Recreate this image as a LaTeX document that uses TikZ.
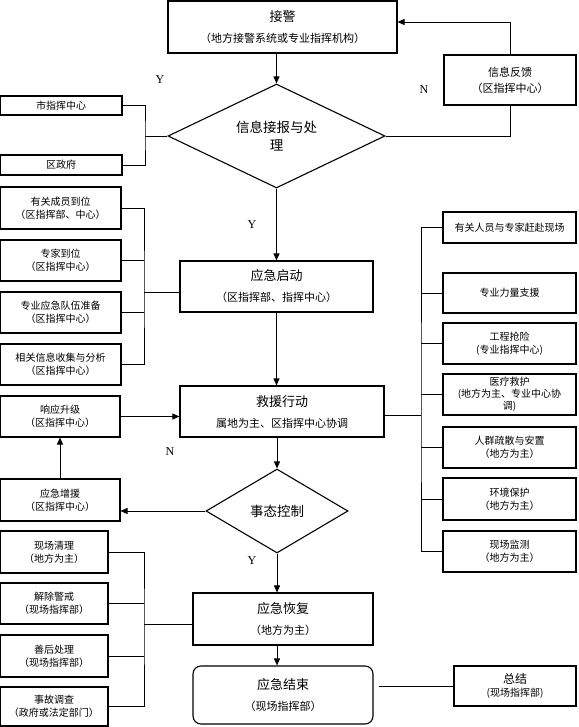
\documentclass[tikz,border=0pt]{standalone}
\usepackage{fontspec}
\setmainfont{Noto Sans CJK SC}
\newfontfamily\yesno{Liberation Serif}
\usetikzlibrary{shapes.geometric, arrows.meta}
\newcommand{\boxtitle}[1]{{\fontsize{13}{13}\selectfont #1}}

\begin{document}
\begin{tikzpicture}[x=1pt, y=-1pt,
    box/.style={draw, line width=1.1pt, align=center, inner sep=0pt},
    mainbox/.style={box, font=\fontsize{11}{21}\selectfont},
    sidebox/.style={box, font=\fontsize{10}{13}\selectfont},
    decision/.style={diamond, aspect=2, draw, line width=1.1pt, align=center, inner sep=0pt, font=\fontsize{13.5}{18}\selectfont},
    yn/.style={font=\yesno\fontsize{12}{12}\selectfont},
    link/.style={line width=0.9pt},
    arr/.style={link, -{Triangle[length=7pt,width=6pt]}}]
    \useasboundingbox (0,0) rectangle (578,727);

    \node[mainbox, minimum width=229pt, minimum height=52pt] (jiejing) at (282.5,27) {\boxtitle{接警}\\（地方接警系统或专业指挥机构）};
    \node[decision, minimum width=217pt, minimum height=104pt] (info) at (276.5,136) {信息接报与处\\理};
    \node[sidebox, font=\fontsize{11}{16}\selectfont, minimum width=132pt, minimum height=50pt] (fankui) at (510,80) {信息反馈\\（区指挥中心）};
    \node[sidebox, minimum width=122pt, minimum height=19pt] (shizhihui) at (61,105.5) {市指挥中心};
    \node[sidebox, minimum width=122pt, minimum height=20pt] (quzhengfu) at (61,165) {区政府};

    \node[sidebox, minimum width=121pt, minimum height=42pt] (daowei) at (60.5,208) {有关成员到位\\（区指挥部、中心）};
    \node[sidebox, minimum width=121pt, minimum height=41pt] (zhuanjia) at (60.5,260.5) {专家到位\\（区指挥中心）};
    \node[sidebox, minimum width=121pt, minimum height=41pt] (duiwu) at (60.5,312.5) {专业应急队伍准备\\（区指挥中心）};
    \node[sidebox, minimum width=121pt, minimum height=41pt] (shouji) at (60.5,364.5) {相关信息收集与分析\\（区指挥中心）};

    \node[mainbox, minimum width=193pt, minimum height=51pt] (qidong) at (276.5,286.5) {\boxtitle{应急启动}\\（区指挥部、指挥中心）};
    \node[mainbox, minimum width=204pt, minimum height=51pt] (jiuyuan) at (282,411.5) {\boxtitle{救援行动}\\属地为主、区指挥中心协调};
    \node[sidebox, minimum width=120pt, minimum height=41pt] (shengji) at (60,416.5) {响应升级\\（区指挥中心）};
    \node[sidebox, minimum width=120pt, minimum height=42pt] (zengyuan) at (60,500) {应急增援\\（区指挥中心）};
    \node[decision, minimum width=142pt, minimum height=84pt] (kongzhi) at (277,511) {事态控制};

    \node[sidebox, minimum width=133pt, minimum height=31pt] (ganfu) at (509.5,227.5) {有关人员与专家赶赴现场};
    \node[sidebox, minimum width=133pt, minimum height=40pt] (zhiyuan) at (509.5,293) {专业力量支援};
    \node[sidebox, minimum width=133pt, minimum height=41pt] (qiangxian) at (509.5,343.5) {工程抢险\\(专业指挥中心)};
    \node[sidebox, font=\fontsize{10}{12}\selectfont, minimum width=133pt, minimum height=41pt] (jiuhu) at (509.5,394.5) {医疗救护\\(地方为主、专业中心协\\调)};
    \node[sidebox, minimum width=133pt, minimum height=41pt] (shusan) at (509.5,447.5) {人群疏散与安置\\（地方为主）};
    \node[sidebox, minimum width=133pt, minimum height=42pt] (huanbao) at (509.5,499) {环境保护\\（地方为主）};
    \node[sidebox, minimum width=133pt, minimum height=41pt] (jiance) at (509.5,551.5) {现场监测\\（地方为主）};

    \node[sidebox, minimum width=108pt, minimum height=42pt] (qingli) at (54,552) {现场清理\\（地方为主）};
    \node[sidebox, minimum width=108pt, minimum height=41pt] (jiechu) at (54,603.5) {解除警戒\\（现场指挥部）};
    \node[sidebox, minimum width=108pt, minimum height=42pt] (shanhou) at (54,656) {善后处理\\（现场指挥部）};
    \node[sidebox, minimum width=108pt, minimum height=39pt] (diaocha) at (54,706.5) {事故调查\\（政府或法定部门）};

    \node[mainbox, minimum width=180pt, minimum height=52pt] (huifu) at (283,619) {\boxtitle{应急恢复}\\（地方为主）};
    \node[mainbox, rounded corners=8pt, minimum width=180pt, minimum height=58pt] (jieshu) at (283,695) {\boxtitle{应急结束}\\（现场指挥部）};
    \node[sidebox, minimum width=122pt, minimum height=40pt] (zongjie) at (515,686) {{\fontsize{12}{12}\selectfont 总结}\\(现场指挥部)};

    \node[yn] (y1) at (160,80) {Y};
    \node[yn] (n1) at (424,90) {N};
    \node[yn] (y2) at (252,225) {Y};
    \node[yn] (n2) at (170,452) {N};
    \node[yn] (y3) at (252,561) {Y};

    \draw[arr] (jiejing.south -| info.north) -- (info.north);
    \draw[link] (info.east) -| (fankui.south);
    \draw[arr] (fankui.north) |- ([yshift=5pt]jiejing.east);
    \coordinate (jl1) at (145,136);
    \draw[link] (shizhihui.east) -| (jl1) |- (quzhengfu.east);
    \draw[link] (jl1) -- (info.west);
    \draw[arr] (info.south) -- (info.south |- qidong.north);

    \coordinate (jl2) at (144,292);
    \draw[link] (daowei.east) -| (jl2) |- (shouji.east);
    \draw[link] (zhuanjia.east) -- (zhuanjia.east -| jl2);
    \draw[link] (duiwu.east) -- (duiwu.east -| jl2);
    \draw[link] (jl2) -- (jl2 -| qidong.west);
    \draw[arr] (qidong.south) -- (qidong.south |- jiuyuan.north);
    \draw[arr] (kongzhi.north |- jiuyuan.south) -- (kongzhi.north);
    \draw[arr] (shengji.east) -- (shengji.east -| jiuyuan.west);
    \draw[arr] (zengyuan.north) -- (shengji.south);
    \draw[arr] (kongzhi.west) -- (kongzhi.west -| zengyuan.east);

    \coordinate (jr) at (421,415);
    \draw[link] (jr -| jiuyuan.east) -- (jr);
    \draw[link] (ganfu.west) -| (jr) |- (jiance.west);
    \draw[link] (zhiyuan.west) -- (zhiyuan.west -| jr);
    \draw[link] (qiangxian.west) -- (qiangxian.west -| jr);
    \draw[link] (jiuhu.west) -- (jiuhu.west -| jr);
    \draw[link] (shusan.west) -- (shusan.west -| jr);
    \draw[link] (huanbao.west) -- (huanbao.west -| jr);

    \draw[arr] (kongzhi.south) -- (kongzhi.south |- huifu.north);
    \coordinate (jb) at (144,624);
    \draw[link] (qingli.east) -| (jb) |- (diaocha.east);
    \draw[link] (jiechu.east) -- (jiechu.east -| jb);
    \draw[link] (shanhou.east) -- (shanhou.east -| jb);
    \draw[link] (jb) -- (jb -| huifu.west);
    \draw[arr] (kongzhi.south |- huifu.south) -- (kongzhi.south |- jieshu.north);
    \draw[link] ([xshift=5pt]jieshu.east |- zongjie.west) -- (zongjie.west);
\end{tikzpicture}
\end{document}
